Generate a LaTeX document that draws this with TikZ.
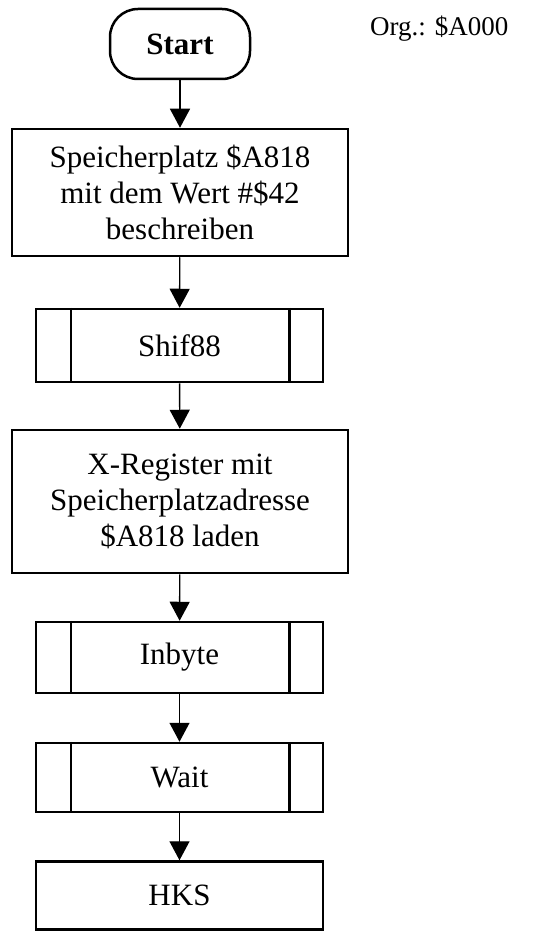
\documentclass[tikz,border=0pt]{standalone}
\usepackage{fontspec}
\setmainfont{Liberation Serif}
\usetikzlibrary{arrows.meta}
\begin{document}
\begin{tikzpicture}[x=1pt,y=-1pt,
  box/.style={draw,line width=2.5pt,inner sep=0pt,align=center,
    font=\fontsize{31}{36}\selectfont},
  procbox/.style={box,minimum width=336pt},
  subbox/.style={box,minimum width=287pt},
  term/.style={box,rounded corners=28pt,minimum width=140pt,minimum height=70pt,
    font=\fontsize{31}{36}\selectfont\bfseries},
  arr/.style={line width=1.4pt,-{Triangle[length=19pt,width=20pt]}}
]
\useasboundingbox (0,0) rectangle (543,933);

\node[term] (start) at (180,44) {Start};
\node[anchor=west,font=\fontsize{27}{32}\selectfont,inner sep=0pt] (org) at (370,29) {Org.: \$A000};

\node[procbox,minimum height=127pt] (b1) at (180,192.5)
  {Speicherplatz \$A818\\mit dem Wert \#\$42\\beschreiben};
\node[subbox,minimum height=73pt] (s1) at (179.5,345.5) {Shif88};
\node[procbox,minimum height=143pt] (b2) at (180,501.5)
  {X-Register mit\\Speicherplatzadresse\\\$A818 laden};
\node[subbox,minimum height=71pt] (s2) at (179.5,657.5) {Inbyte};
\node[subbox,minimum height=69pt] (s3) at (179.5,777.5) {Wait};
\node[subbox,minimum height=68pt] (hks) at (179.5,895.5) {HKS};

% inner bars of the subroutine boxes
\foreach \n in {s1,s2,s3}{
  \draw[line width=2.5pt] ([xshift=36pt]\n.north west) -- ([xshift=36pt]\n.south west);
  \draw[line width=2.5pt] ([xshift=-35pt]\n.north east) -- ([xshift=-35pt]\n.south east);
}

\draw[arr] (start) -- (b1);
\draw[arr] (b1) -- (s1);
\draw[arr] (s1) -- (b2);
\draw[arr] (b2) -- (s2);
\draw[arr] (s2) -- (s3);
\draw[arr] (s3) -- (hks);
\end{tikzpicture}
\end{document}
